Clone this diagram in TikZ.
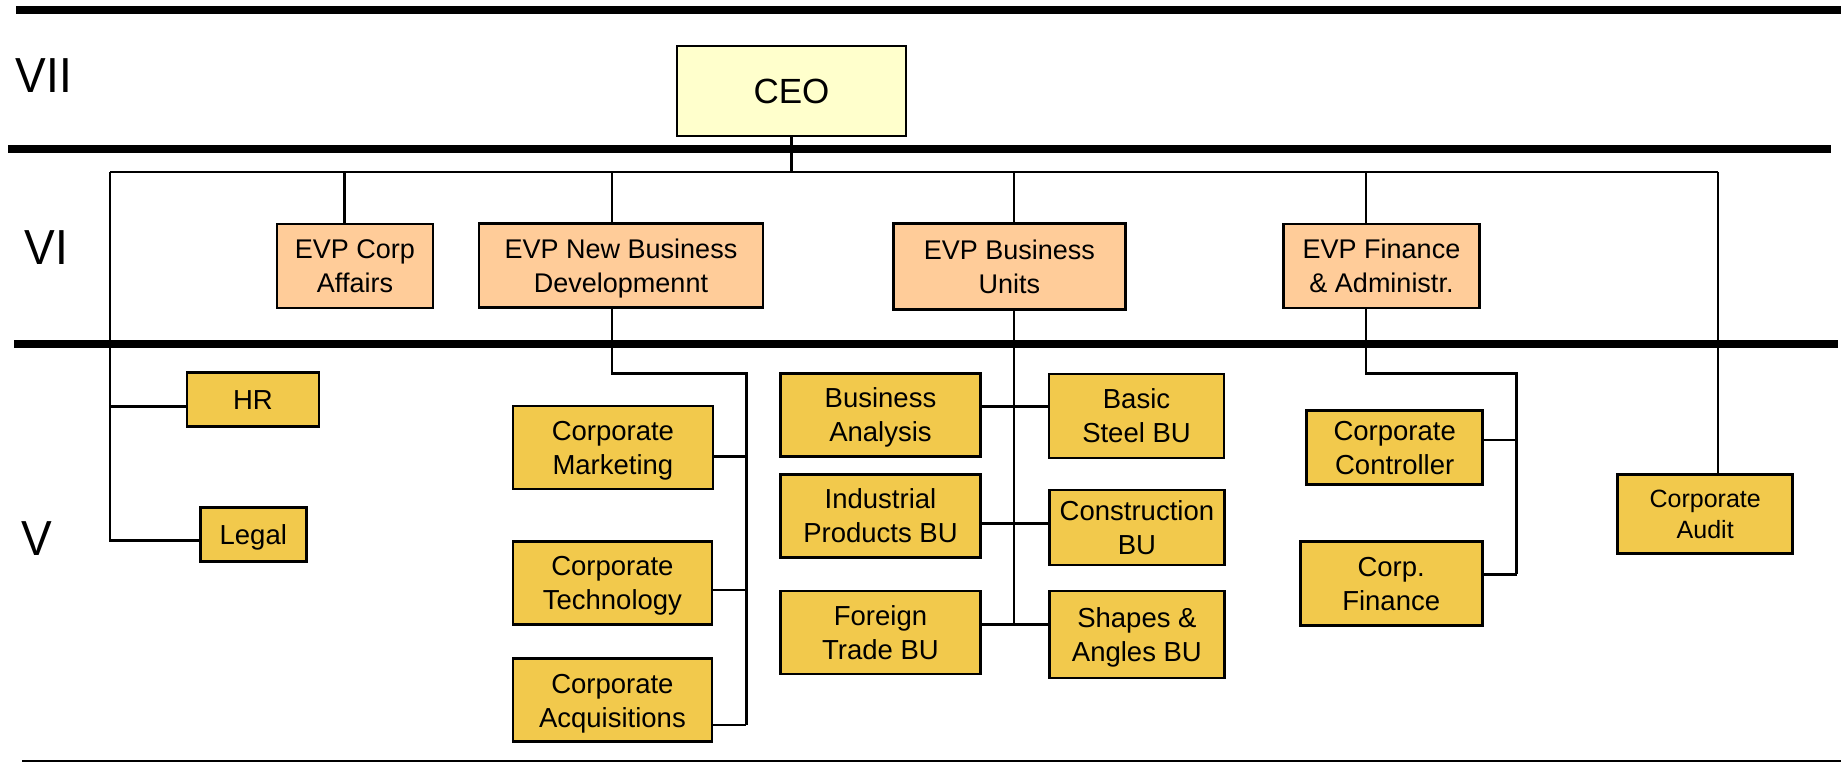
\documentclass[tikz,border=0pt]{standalone}
\usepackage{graphicx}
\usepackage{fontspec}
\setmainfont{Liberation Sans}
\definecolor{ceoc}{RGB}{255,255,204}
\definecolor{evpc}{RGB}{255,204,153}
\definecolor{unitc}{RGB}{242,201,76}
\newcommand\bt[2][3pt]{\raisebox{-#1}[\height][\depth]{\begin{tabular}{@{}c@{}}#2\end{tabular}}}
\newcommand\lvltxt[1]{\scalebox{1}[1.07]{#1}}
\tikzset{
  box/.style={draw=black, line width=2.7pt, inner sep=0pt, font=\fontsize{27.5}{34}\selectfont},
  evp/.style={box, fill=evpc, font=\fontsize{27}{34}\selectfont},
  unit/.style={box, fill=unitc},
  conn/.style={line width=2.8pt},
  rulebar/.style={line width=8pt},
  lvl/.style={font=\fontsize{46}{50}\selectfont, inner sep=0pt}
}
\begin{document}
\begin{tikzpicture}[x=1pt,y=-1pt]
\useasboundingbox (0,0) rectangle (1841,762);

% level labels
\node[lvl] (l7) at (44,75.8) {\lvltxt{VII}};
\node[lvl] (l6) at (46.3,247.8) {\lvltxt{VI}};
\node[lvl] (l5) at (36.7,538.5) {\lvltxt{V}};

% CEO
\node[box, fill=ceoc, font=\fontsize{35}{40}\selectfont, minimum width=229pt, minimum height=90pt] (ceo) at (791.5,91) {\bt[4.5pt]{CEO}};

% EVPs
\node[evp, minimum width=156pt, minimum height=84pt] (ecorp) at (355,266) {\bt{EVP Corp\\Affairs}};
\node[evp, minimum width=284pt, minimum height=84pt] (enb) at (621,265.5) {\bt{EVP New Business\\Developmennt}};
\node[evp, minimum width=232pt, minimum height=86pt] (ebu) at (1009.3,266.7) {\bt{EVP Business\\Units}};
\node[evp, minimum width=196pt, minimum height=84pt] (efin) at (1381.5,266) {\bt{EVP Finance\\\& Administr.}};

% level V units
\node[unit, minimum width=132pt, minimum height=54pt] (hr) at (253,399.5) {\bt{HR}};
\node[unit, minimum width=106pt, minimum height=54pt] (legal) at (253.3,534.7) {\bt{Legal}};
\node[unit, minimum width=200pt, minimum height=83pt] (cm) at (612.9,447.5) {\bt{Corporate\\Marketing}};
\node[unit, minimum width=199pt, minimum height=83pt] (ct) at (612.4,583) {\bt{Corporate\\Technology}};
\node[unit, minimum width=199pt, minimum height=83pt] (ca) at (612.4,700.2) {\bt{Corporate\\Acquisitions}};
\node[unit, minimum width=200pt, minimum height=83pt] (ba) at (880.5,415) {\bt{Business\\Analysis}};
\node[unit, minimum width=200pt, minimum height=83pt] (ip) at (880.5,515.8) {\bt{Industrial\\Products BU}};
\node[unit, minimum width=200pt, minimum height=83pt] (ft) at (880.5,632.5) {\bt{Foreign\\Trade BU}};
\node[unit, minimum width=175pt, minimum height=84pt] (bs) at (1136.5,415.9) {\bt{Basic\\Steel BU}};
\node[unit, minimum width=175pt, minimum height=75pt] (cb) at (1136.9,527.5) {\bt{Construction\\BU}};
\node[unit, minimum width=175pt, minimum height=87pt] (sa) at (1136.9,634.5) {\bt{Shapes \&\\Angles BU}};
\node[unit, minimum width=176pt, minimum height=74pt] (cc) at (1394.7,447.8) {\bt{Corporate\\Controller}};
\node[unit, minimum width=182pt, minimum height=84pt] (cf) at (1391.2,583.5) {\bt{Corp.\\Finance}};
\node[unit, font=\fontsize{25}{31}\selectfont, minimum width=175pt, minimum height=79pt] (audit) at (1705.2,514.2) {\bt[2.75pt]{Corporate\\Audit}};

% helper coordinates
\coordinate (busL) at (110,172);
\coordinate (busR) at (1718,172);
\coordinate (dCorp) at (344.5,172);
\coordinate (dNB) at (612,172);
\coordinate (dBU) at (1014,172);
\coordinate (dFin) at (1366,172);
\coordinate (yHR) at (0,406.7);
\coordinate (yLegal) at (0,540.7);
\coordinate (nbA) at (612,373.3);
\coordinate (nbB) at (746.4,373.3);
\coordinate (nbC) at (746.4,725);
\coordinate (yCM) at (0,456.7);
\coordinate (yCT) at (0,590);
\coordinate (r1) at (0,406.7);
\coordinate (r2) at (0,523.7);
\coordinate (r3) at (0,624.3);
\coordinate (finA) at (1366,373.3);
\coordinate (finB) at (1516.8,373.3);
\coordinate (finC) at (1516.8,574.3);
\coordinate (yCC) at (0,440);

% connectors
\draw[conn] (ceo.south) -- (ceo.south |- busL);
\draw[conn] (busL) -- (busR);
\draw[conn] (busR) -- (busR |- audit.north);
\draw[conn] (busL) |- (legal.west |- yLegal);
\draw[conn] (busL |- yHR) -- (hr.west |- yHR);
\draw[conn] (dCorp) -- (dCorp |- ecorp.north);
\draw[conn] (dNB) -- (dNB |- enb.north);
\draw[conn] (dBU) -- (dBU |- ebu.north);
\draw[conn] (dFin) -- (dFin |- efin.north);

\draw[conn] (dNB |- enb.south) -- (nbA) -- (nbB) -- (nbC);
\draw[conn] (cm.east |- yCM) -- (nbB |- yCM);
\draw[conn] (ct.east |- yCT) -- (nbB |- yCT);
\draw[conn] (ca.east |- nbC) -- (nbC);

\draw[conn] (dBU |- ebu.south) -- (dBU |- r3);
\draw[conn] (ba.east |- r1) -- (bs.west |- r1);
\draw[conn] (ip.east |- r2) -- (cb.west |- r2);
\draw[conn] (ft.east |- r3) -- (sa.west |- r3);

\draw[conn] (dFin |- efin.south) -- (finA) -- (finB) -- (finC);
\draw[conn] (cc.east |- yCC) -- (finB |- yCC);
\draw[conn] (cf.east |- finC) -- (finC);

% level dividers
\draw[rulebar] (16,9.7) -- (1841,9.7);
\draw[rulebar] (8,149.5) -- (1831,149.5);
\draw[rulebar] (14,343.7) -- (1838,343.7);
\draw[line width=2pt] (22,760.7) -- (1841,760.7);
\end{tikzpicture}
\end{document}
